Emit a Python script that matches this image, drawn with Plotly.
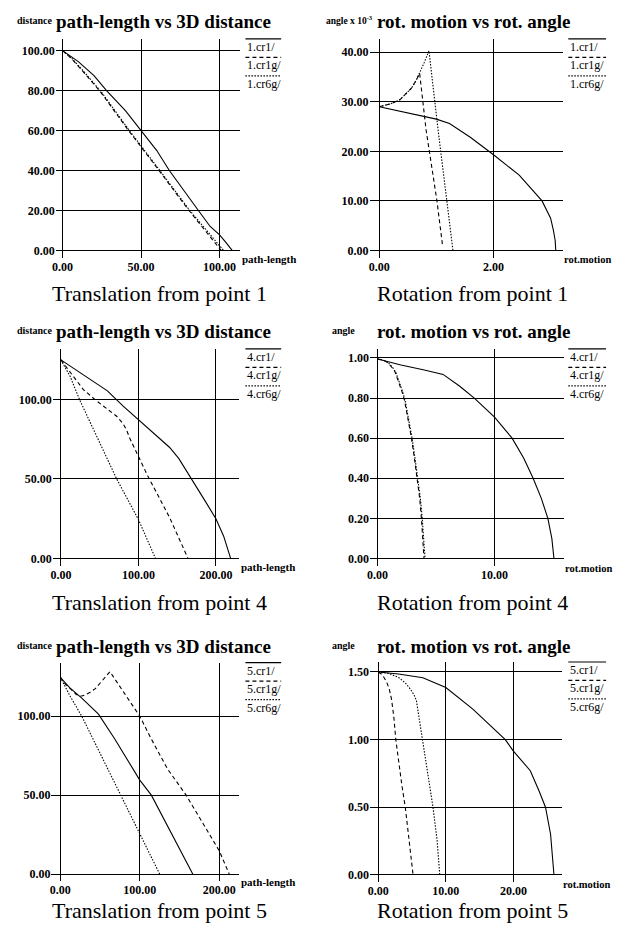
import plotly.graph_objects as go

W, H = 617, 934

# ---------------- data ----------------
# Panel 1: Translation from point 1
p1_cr1_x = [0, 10, 20, 28, 40, 50, 60, 68, 77, 86.5, 94, 100, 104, 108]
p1_cr1_y = [100, 94.5, 87.5, 80, 70, 60, 50, 40, 30, 20, 12, 7.8, 4, 0]
p1_cr1g_x = [0, 5, 12, 24, 42, 50, 60, 80, 101]
p1_cr1g_y = [100, 96.5, 90.5, 79.5, 60, 52, 41.5, 20.5, 0]
p1_cr6g_x = [0, 6, 13, 25, 43, 51, 61, 81, 102.5]
p1_cr6g_y = [100, 96, 90, 79, 59.5, 51.5, 41, 20, 0]

# Panel 2: Rotation from point 1 (angle x 10^-3)
p2_cr1_x = [0, 0.5, 1.0, 1.23, 1.6, 2.0, 2.45, 2.85, 3.0, 3.05, 3.08, 3.09]
p2_cr1_y = [29, 27.8, 26.5, 25.6, 22.8, 19.3, 15.2, 10, 6.5, 4, 2, 0]
p2_cr1g_x = [0, 0.2, 0.36, 0.5, 0.56, 0.65, 0.706, 0.82, 1.01, 1.11]
p2_cr1g_y = [29, 29.6, 30.4, 31.9, 32.7, 34.4, 35.8, 24.3, 10, 0.8]
p2_cr6g_x = [0, 0.2, 0.36, 0.5, 0.56, 0.65, 0.706, 0.79, 0.87, 1.03, 1.29]
p2_cr6g_y = [29, 29.6, 30.4, 31.9, 32.7, 34.4, 35.8, 38, 40.3, 24.3, 0]

# Panel 3: Translation from point 4
p3_cr1_x = [0, 20, 40, 60, 80, 100, 120, 140, 152, 168, 185, 200, 210, 219]
p3_cr1_y = [125, 118.5, 112, 105.5, 96, 87.5, 79, 70, 63, 50, 37, 25, 14, 0]
p3_cr1g_x = [0, 15, 29, 45, 61, 72, 80, 85, 89, 100, 112, 140, 164]
p3_cr1g_y = [125, 115.5, 106.3, 99.6, 93.7, 89.5, 85, 80.5, 75.5, 64, 52, 26, 0]
p3_cr6g_x = [0, 12, 24, 48, 72, 100, 116.7, 122]
p3_cr6g_y = [125, 114.5, 100, 75, 50, 24.5, 6.7, 0]

# Panel 4: Rotation from point 4
p4_cr1_x = [0, 2, 4, 5.6, 7, 8.27, 10, 11.5, 12.5, 13.3, 14, 14.56, 14.9, 15.05, 15.08]
p4_cr1_y = [0.995, 0.965, 0.94, 0.918, 0.86, 0.8, 0.705, 0.6, 0.5, 0.4, 0.3, 0.2, 0.1, 0.03, 0]
p4_cr1g_x = [0, 0.4, 0.8, 1.2, 1.5, 1.8, 2.1, 2.3, 2.6, 2.9, 3.15, 3.4, 3.6, 3.75, 3.88, 3.97]
p4_cr1g_y = [0.995, 0.99, 0.98, 0.955, 0.93, 0.885, 0.83, 0.79, 0.7, 0.6, 0.5, 0.4, 0.3, 0.2, 0.1, 0]
p4_cr6g_x = [0, 0.45, 0.85, 1.25, 1.55, 1.85, 2.15, 2.35, 2.65, 2.95, 3.2, 3.45, 3.66, 3.82, 3.96, 4.06]
p4_cr6g_y = [0.995, 0.99, 0.98, 0.955, 0.93, 0.885, 0.83, 0.79, 0.7, 0.6, 0.5, 0.4, 0.3, 0.2, 0.1, 0]

# Panel 5: Translation from point 5
p5_cr1_x = [0, 12, 27, 48, 68.7, 100, 114.5, 140, 166.6]
p5_cr1_y = [124.7, 118, 111.5, 101.3, 85.4, 59.5, 50, 26, 0]
p5_cr1g_x = [0, 6, 12.5, 20, 25, 27, 31, 37.5, 44, 50, 55, 58.3, 62.5, 80, 100, 114.5, 135, 158.3, 180, 200, 212.5]
p5_cr1g_y = [124.7, 120.5, 117.5, 113.8, 112.8, 112.8, 113.5, 115.2, 117.5, 121, 123.8, 126, 128.2, 115, 100, 85.5, 66.5, 50, 32, 14.7, 0]
p5_cr6g_x = [0, 12, 27, 41.6, 54.2, 75.8, 100, 125]
p5_cr6g_y = [124.7, 113, 100, 85, 72.8, 50, 25.3, 0]

# Panel 6: Rotation from point 5
p6_cr1_x = [0, 3, 6.6, 10, 14, 17, 18.8, 20, 22.5, 23.8, 24.75, 25.5, 25.9, 26]
p6_cr1_y = [1.5, 1.485, 1.458, 1.385, 1.225, 1.08, 1.0, 0.915, 0.77, 0.62, 0.5, 0.3, 0.1, 0]
p6_cr1g_x = [0, 0.6, 1.2, 1.6, 1.96, 2.3, 2.6, 3.0, 3.5, 4.0, 4.5, 5.15]
p6_cr1g_y = [1.5, 1.48, 1.43, 1.38, 1.3, 1.17, 1.0, 0.84, 0.66, 0.5, 0.3, 0.0]
p6_cr6g_x = [0, 1.5, 3, 4, 4.8, 5.3, 5.64, 6.05, 6.47, 7.3, 8.1, 8.7, 9.1]
p6_cr6g_y = [1.5, 1.49, 1.46, 1.42, 1.37, 1.33, 1.29, 1.16, 1.0, 0.74, 0.5, 0.26, 0]

# tick values
p1_xticks = [0, 50, 100]
p1_yticks = [0, 20, 40, 60, 80, 100]
p2_xticks = [0, 2]
p2_yticks = [0, 10, 20, 30, 40]
p3_xticks = [0, 100, 200]
p3_yticks = [0, 50, 100]
p4_xticks = [0, 10]
p4_yticks = [0, 0.2, 0.4, 0.6, 0.8, 1.0]
p5_xticks = [0, 100, 200]
p5_yticks = [0, 50, 100]
p6_xticks = [0, 10, 20]
p6_yticks = [0, 0.5, 1.0, 1.5]

trans_title = "path-length vs 3D distance"
rot_title = "rot. motion vs rot. angle"
captions = ["Translation from point 1", "Rotation from point 1",
            "Translation from point 4", "Rotation from point 4",
            "Translation from point 5", "Rotation from point 5"]
legend_names = [["1.cr1/", "1.cr1g/", "1.cr6g/"],
                ["4.cr1/", "4.cr1g/", "4.cr6g/"],
                ["5.cr1/", "5.cr1g/", "5.cr6g/"]]

# ---------------- layout geometry (pixels) ----------------
SERIF = "Liberation Serif"
DASH = "4px,3px"
DOT = "1.5px,1.5px"
styles = ["solid", DASH, DOT]

panels = [
    dict(box=(52, 238, 39, 258), xr=[-4.43, 113.3], yr=[-3.65, 105.85],
         series=[(p1_cr1_x, p1_cr1_y), (p1_cr1g_x, p1_cr1g_y), (p1_cr6g_x, p1_cr6g_y)],
         xt=p1_xticks, yt=p1_yticks, kind="t", row=0),
    dict(box=(368, 563, 39, 258), xr=[-0.169, 3.223], yr=[-1.47, 42.68],
         series=[(p2_cr1_x, p2_cr1_y), (p2_cr1g_x, p2_cr1g_y), (p2_cr6g_x, p2_cr6g_y)],
         xt=p2_xticks, yt=p2_yticks, kind="r", row=0),
    dict(box=(49, 236.7, 349.3, 566.7), xr=[-10.6, 230], yr=[-4.84, 131.9],
         series=[(p3_cr1_x, p3_cr1_y), (p3_cr1g_x, p3_cr1g_y), (p3_cr6g_x, p3_cr6g_y)],
         xt=p3_xticks, yt=p3_yticks, kind="t", row=1),
    dict(box=(368.3, 563.3, 349.3, 566.7), xr=[-0.654, 15.91], yr=[-0.038, 1.045],
         series=[(p4_cr1_x, p4_cr1_y), (p4_cr1g_x, p4_cr1g_y), (p4_cr6g_x, p4_cr6g_y)],
         xt=p4_xticks, yt=p4_yticks, kind="r", row=1),
    dict(box=(47.7, 236.7, 663.3, 881.7), xr=[-11.25, 225], yr=[-4.24, 134],
         series=[(p5_cr1_x, p5_cr1_y), (p5_cr1g_x, p5_cr1g_y), (p5_cr6g_x, p5_cr6g_y)],
         xt=p5_xticks, yt=p5_yticks, kind="t", row=2),
    dict(box=(368.3, 561.7, 662.7, 883.3), xr=[-1.235, 27.2], yr=[-0.056, 1.574],
         series=[(p6_cr1_x, p6_cr1_y), (p6_cr1g_x, p6_cr1g_y), (p6_cr6g_x, p6_cr6g_y)],
         xt=p6_xticks, yt=p6_yticks, kind="r", row=2),
]
title_y = [22, 332, 647]
caption_y = [294, 603, 911]


def px(x):
    return x / W


def py(y):
    return 1 - y / H


fig = go.Figure()
layout = dict(width=W, height=H, margin=dict(l=0, r=0, t=0, b=0),
              paper_bgcolor="white", plot_bgcolor="white", showlegend=False,
              font=dict(family=SERIF, color="black"))
annotations = []
shapes = []

for i, p in enumerate(panels):
    n = "" if i == 0 else str(i + 1)
    l, r, t, b = p["box"]
    for (xs, ys), st in zip(p["series"], styles):
        fig.add_trace(go.Scatter(x=xs, y=ys, mode="lines", xaxis="x" + n, yaxis="y" + n,
                                 line=dict(color="black", width=1.1, dash=st),
                                 hoverinfo="skip"))
    axcommon = dict(showgrid=True, gridcolor="black", gridwidth=1.4,
                    zeroline=True, zerolinecolor="black", zerolinewidth=1.4,
                    showline=False, ticks="", tickmode="array",
                    tickfont=dict(family=SERIF, size=12, color="black", weight="bold"))
    layout["xaxis" + n] = dict(axcommon, domain=[px(l), px(r)], range=p["xr"],
                               anchor="y" + n, tickvals=p["xt"],
                               ticktext=["%.2f" % v for v in p["xt"]])
    layout["yaxis" + n] = dict(axcommon, domain=[py(b), py(t)], range=p["yr"],
                               anchor="x" + n, tickvals=p["yt"],
                               ticktext=["%.2f" % v for v in p["yt"]])

    row = p["row"]
    ty = title_y[row]
    if p["kind"] == "t":
        annotations.append(dict(text=trans_title, x=px(50), y=py(ty), xanchor="left", yanchor="middle",
                                font=dict(family=SERIF, size=19, weight="bold")))
        annotations.append(dict(text="distance", x=px(11), y=py(ty - 1), xanchor="left", yanchor="middle",
                                font=dict(family=SERIF, size=10, weight="bold")))
        annotations.append(dict(text="path-length", x=px(r), y=py(b + 1), xanchor="left", yanchor="middle",
                                font=dict(family=SERIF, size=11, weight="bold")))
        cx = 157
        lx0, lx1 = 243, 279
    else:
        annotations.append(dict(text=rot_title, x=px(373), y=py(ty), xanchor="left", yanchor="middle",
                                font=dict(family=SERIF, size=19, weight="bold")))
        if row == 0:
            annotations.append(dict(text="angle x 10<sup>-3</sup>", x=px(322), y=py(ty - 2),
                                    xanchor="left", yanchor="middle",
                                    font=dict(family=SERIF, size=9.5, weight="bold")))
        else:
            annotations.append(dict(text="angle", x=px(328), y=py(ty - 1), xanchor="left", yanchor="middle",
                                    font=dict(family=SERIF, size=10, weight="bold")))
        annotations.append(dict(text="rot.motion", x=px(r - 1), y=py(b + 2), xanchor="left", yanchor="middle",
                                font=dict(family=SERIF, size=10.5, weight="bold")))
        cx = 472
        lx0, lx1 = 568, 606
    annotations.append(dict(text=captions[i], x=px(cx), y=py(caption_y[row]), xanchor="center",
                            yanchor="middle", font=dict(family=SERIF, size=22)))
    # legend
    for k, (name, st) in enumerate(zip(legend_names[row], styles)):
        ly = t + k * 18.5
        shapes.append(dict(type="line", xref="paper", yref="paper", x0=px(lx0), x1=px(lx1),
                           y0=py(ly), y1=py(ly), line=dict(color="black", width=1.2, dash=st)))
        annotations.append(dict(text=name, x=px(lx0), y=py(ly + 8), xanchor="left", yanchor="middle",
                                font=dict(family=SERIF, size=12)))

for a in annotations:
    a.setdefault("xref", "paper")
    a.setdefault("yref", "paper")
    a["showarrow"] = False
layout["annotations"] = annotations
layout["shapes"] = shapes
fig.update_layout(**layout)
fig.write_html("out.html", config={"displayModeBar": False},
               post_script="document.body.style.margin='0px';document.body.style.overflow='hidden';")
